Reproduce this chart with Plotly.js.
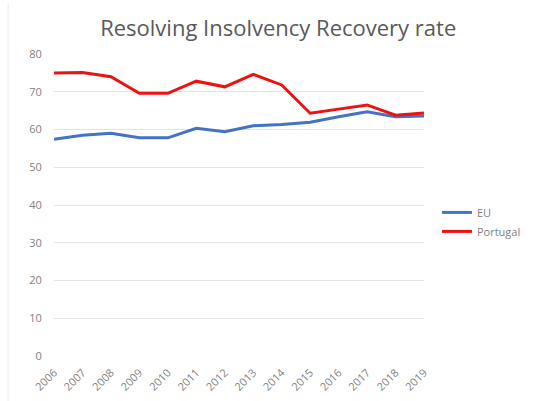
<!DOCTYPE html>
<html>
<head>
<meta charset="utf-8">
<script src="https://cdn.plot.ly/plotly-3.0.1.min.js"></script>
<style>html,body{margin:0;padding:0;background:#fff;}#chart{width:535px;height:401px;}</style>
</head>
<body>
<div id="chart"></div>
<script>
const years = ["2006","2007","2008","2009","2010","2011","2012","2013","2014","2015","2016","2017","2018","2019"];
const euValues = [57.4, 58.5, 59.0, 57.8, 57.8, 60.3, 59.4, 61.0, 61.3, 61.9, 63.4, 64.7, 63.4, 63.6];
const portugalValues = [75.0, 75.1, 74.0, 69.6, 69.6, 72.8, 71.3, 74.6, 71.8, 64.3, 65.4, 66.5, 63.8, 64.4];
const yTicks = [0, 10, 20, 30, 40, 50, 60, 70, 80];

const traces = [
  {x: years, y: euValues, name: "EU", type: "scatter", mode: "lines",
   line: {color: "#4472C4", width: 3}},
  {x: years, y: portugalValues, name: "Portugal", type: "scatter", mode: "lines",
   line: {color: "#EE1111", width: 3}}
];

const layout = {
  width: 535, height: 401,
  margin: {l: 54, r: 111, t: 54, b: 45, autoexpand: false},
  paper_bgcolor: "#fff", plot_bgcolor: "#fff",
  font: {family: "Open Sans, DejaVu Sans, sans-serif", color: "#595959"},
  title: {text: "Resolving Insolvency Recovery rate", x: 0.52, xanchor: "center", y: 0.93, yanchor: "middle",
          font: {size: 22, color: "#595959"}},
  xaxis: {type: "category", tickangle: -45, showgrid: false, zeroline: false, showline: false, automargin: false,
          ticks: "outside", ticklen: 5, tickcolor: "rgba(0,0,0,0)", tickfont: {size: 11, color: "#7f7f7f"}},
  yaxis: {range: [0, 80], tickvals: yTicks, gridcolor: "#e3e3e3", gridwidth: 1, zeroline: false, automargin: false,
          showline: false, ticks: "outside", ticklen: 9, tickcolor: "rgba(0,0,0,0)",
          tickfont: {size: 11, color: "#7f7f7f"}},
  legend: {x: 1.035, y: 0.444, xanchor: "left", yanchor: "middle", font: {size: 11, color: "#7f7f7f"},
           tracegroupgap: 2, itemwidth: 30},
  showlegend: true,
  shapes: [
    {type: "line", xref: "paper", yref: "paper", x0: -0.124, x1: -0.124, y0: -0.16, y1: 1.17,
     line: {color: "#ececec", width: 1}}
  ]
};

Plotly.newPlot("chart", traces, layout, {displayModeBar: false, staticPlot: true});
</script>
</body>
</html>
